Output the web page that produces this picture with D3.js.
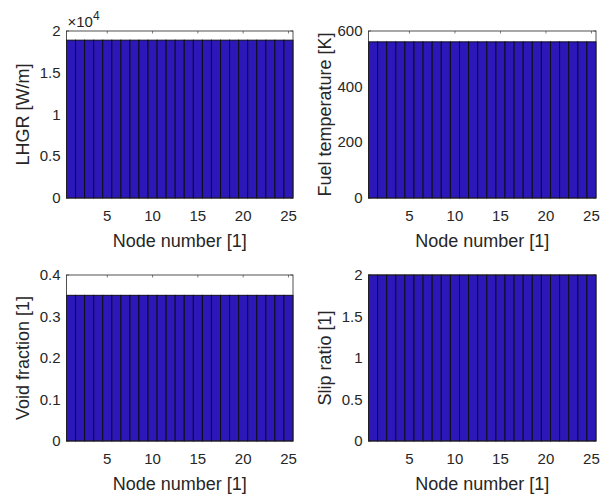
<!DOCTYPE html>
<html>
<head>
<meta charset="utf-8">
<script src="https://cdn.jsdelivr.net/npm/d3@7"></script>
<style>
  body { margin: 0; background: #fff; }
  text { font-family: "Liberation Sans", Arial, sans-serif; fill: #262626; }
  .tick-label { font-size: 15px; }
  .axis-label { font-size: 18px; }
</style>
</head>
<body>
<svg id="fig" width="602" height="494"></svg>
<script>
// node numbers along the channel
const nodes = [1, 2, 3, 4, 5, 6, 7, 8, 9, 10, 11, 12, 13, 14, 15, 16, 17, 18, 19, 20, 21, 22, 23, 24, 25];

// values (all nodes equal)
const lhgr = [18900, 18900, 18900, 18900, 18900, 18900, 18900, 18900, 18900, 18900, 18900, 18900, 18900,
  18900, 18900, 18900, 18900, 18900, 18900, 18900, 18900, 18900, 18900, 18900, 18900];
const fuelTemp = [561, 561, 561, 561, 561, 561, 561, 561, 561, 561, 561, 561, 561,
  561, 561, 561, 561, 561, 561, 561, 561, 561, 561, 561, 561];
const voidFraction = [0.351, 0.351, 0.351, 0.351, 0.351, 0.351, 0.351, 0.351, 0.351, 0.351, 0.351, 0.351, 0.351,
  0.351, 0.351, 0.351, 0.351, 0.351, 0.351, 0.351, 0.351, 0.351, 0.351, 0.351, 0.351];
const slipRatio = [2, 2, 2, 2, 2, 2, 2, 2, 2, 2, 2, 2, 2, 2, 2, 2, 2, 2, 2, 2, 2, 2, 2, 2, 2];

const xTicks = [5, 10, 15, 20, 25];
const lhgrTicks = [0, 5000, 10000, 15000, 20000];
const fuelTicks = [0, 200, 400, 600];
const voidTicks = [0, 0.1, 0.2, 0.3, 0.4];
const slipTicks = [0, 0.5, 1, 1.5, 2];

const barColor = "#2c18b8";
const svg = d3.select("#fig");

const panels = [
  { values: lhgr, ticks: lhgrTicks, ymax: 20000, ylabel: "LHGR [W/m]", scale: 1e4,
    box: { x0: 66.5, x1: 293, y0: 31, y1: 198 } },
  { values: fuelTemp, ticks: fuelTicks, ymax: 600, ylabel: "Fuel temperature [K]",
    box: { x0: 368.5, x1: 596, y0: 31, y1: 198 } },
  { values: voidFraction, ticks: voidTicks, ymax: 0.4, ylabel: "Void fraction [1]",
    box: { x0: 66.5, x1: 293, y0: 275, y1: 441 } },
  { values: slipRatio, ticks: slipTicks, ymax: 2, ylabel: "Slip ratio [1]",
    box: { x0: 368.5, x1: 596, y0: 275, y1: 441 } }
];

const drawPanel = p => {
  const b = p.box;
  const innerWidth = b.x1 - b.x0;
  const innerHeight = b.y1 - b.y0;
  const g = svg.append("g").attr("transform", `translate(${b.x0}, ${b.y0})`);

  const xScale = d3.scaleLinear().domain([0.5, 25.5]).range([0, innerWidth]);
  const yScale = d3.scaleLinear().domain([0, p.ymax]).range([innerHeight, 0]);
  const tickLen = 2.5;

  // inward ticks on all four sides (drawn under the bars, like matlab)
  const tickG = g.append("g").attr("stroke", "#262626").attr("stroke-width", 0.6);
  xTicks.forEach(t => {
    tickG.append("line").attr("x1", xScale(t)).attr("x2", xScale(t)).attr("y1", 0).attr("y2", tickLen);
    tickG.append("line").attr("x1", xScale(t)).attr("x2", xScale(t)).attr("y1", innerHeight).attr("y2", innerHeight - tickLen);
  });
  p.ticks.forEach(t => {
    tickG.append("line").attr("x1", 0).attr("x2", tickLen).attr("y1", yScale(t)).attr("y2", yScale(t));
    tickG.append("line").attr("x1", innerWidth).attr("x2", innerWidth - tickLen).attr("y1", yScale(t)).attr("y2", yScale(t));
  });

  // bars, width 1 so they touch
  g.selectAll("rect.bar")
    .data(nodes)
    .enter()
    .append("rect")
    .attr("class", "bar")
    .attr("x", d => xScale(d - 0.5))
    .attr("width", xScale(1.5) - xScale(0.5))
    .attr("y", (d, i) => yScale(p.values[i]))
    .attr("height", (d, i) => innerHeight - yScale(p.values[i]))
    .attr("fill", barColor)
    .attr("stroke", "#0d0d1a")
    .attr("stroke-width", 1);

  // box
  g.append("rect")
    .attr("width", innerWidth)
    .attr("height", innerHeight)
    .attr("fill", "none")
    .attr("stroke", "#262626")
    .attr("stroke-width", 0.8);

  // tick labels
  g.selectAll("text.xt")
    .data(xTicks)
    .enter()
    .append("text")
    .attr("class", "tick-label")
    .attr("x", d => xScale(d))
    .attr("y", innerHeight + 23)
    .attr("text-anchor", "middle")
    .text(d => d);

  g.selectAll("text.yt")
    .data(p.ticks)
    .enter()
    .append("text")
    .attr("class", "tick-label")
    .attr("x", -6)
    .attr("y", d => yScale(d) + 5)
    .attr("text-anchor", "end")
    .text(d => p.scale ? d / p.scale : d);

  // axis labels
  g.append("text")
    .attr("class", "axis-label")
    .attr("x", innerWidth / 2)
    .attr("y", innerHeight + 49)
    .attr("text-anchor", "middle")
    .text("Node number [1]");

  g.append("text")
    .attr("class", "axis-label")
    .attr("transform", `translate(${-38}, ${innerHeight / 2}) rotate(-90)`)
    .attr("text-anchor", "middle")
    .text(p.ylabel);

  // exponent label
  if (p.scale) {
    const ex = g.append("text")
      .attr("x", 1)
      .attr("y", -4)
      .attr("font-size", "15px");
    ex.append("tspan").text("\u00d710");
    ex.append("tspan").attr("dy", -7).attr("font-size", "12px").text("4");
  }
};

panels.forEach(drawPanel);
</script>
</body>
</html>
